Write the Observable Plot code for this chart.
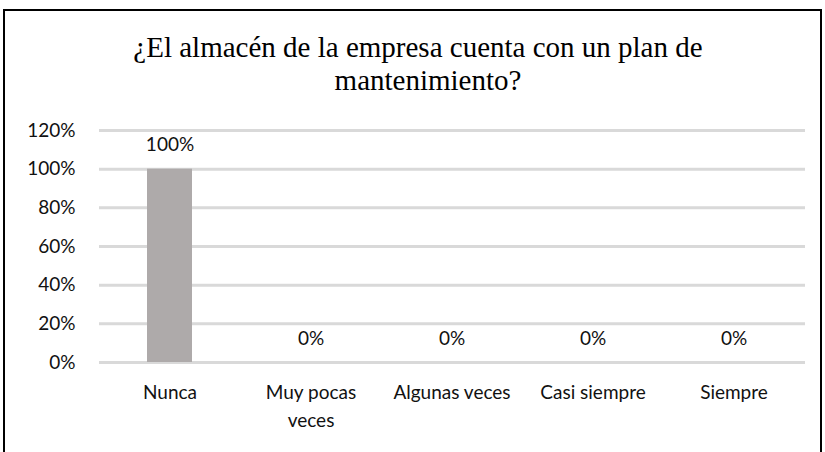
<!DOCTYPE html>
<html>
<head>
<meta charset="utf-8">
<script src="https://cdn.jsdelivr.net/npm/d3@7"></script>
<script src="https://cdn.jsdelivr.net/npm/@observablehq/plot@0.6"></script>
<style>
  html, body { margin: 0; padding: 0; background: #fff; }
  #page { position: relative; width: 825px; height: 452px; overflow: hidden; background: #fff; }
  #frame { position: absolute; left: 3px; top: 9px; width: 819px; height: 460px; border: 2px solid #000; box-sizing: border-box; }
  #chart { position: absolute; left: 0; top: 0; }
</style>
</head>
<body>
<div id="page">
  <div id="frame"></div>
  <div id="chart"></div>
</div>
<script>
const titleLines = ["¿El almacén de la empresa cuenta con un plan de", "mantenimiento?"];
const categories = ["Nunca", "Muy pocas veces", "Algunas veces", "Casi siempre", "Siempre"];
const categoryLabels = ["Nunca", "Muy pocas\nveces", "Algunas veces", "Casi siempre", "Siempre"];
const values = [1.00, 0.00, 0.00, 0.00, 0.00];
const yTicks = [0, 0.2, 0.4, 0.6, 0.8, 1.0, 1.2];

const data = categories.map((c, i) => ({cat: c, value: values[i]}));
const labelOf = new Map(categories.map((c, i) => [c, categoryLabels[i]]));
const pct = v => Math.round(v * 100) + "%";
const font = "Lato, 'Open Sans', sans-serif";

const chart = Plot.plot({
  width: 825,
  height: 440,
  marginLeft: 99,
  marginRight: 20,
  marginTop: 130,
  marginBottom: 78,
  style: {fontFamily: font, fontSize: "19px", color: "#111", background: "transparent"},
  x: {domain: categories, paddingInner: 0.68, paddingOuter: 0.34, label: null},
  y: {domain: [0, 1.2], label: null},
  marks: [
    Plot.ruleY(yTicks, {stroke: "#d9d9d9", strokeWidth: 3}),
    Plot.barY(data, {x: "cat", y: "value", fill: "#aeaaaa"}),
    Plot.text(data, {x: "cat", y: "value", text: d => pct(d.value), dy: -24, fontSize: 19, fill: "#111"}),
    Plot.axisY({ticks: yTicks, tickFormat: pct, tickSize: 0, tickPadding: 24, fontSize: 19, fill: "#111", label: null}),
    Plot.axisX({tickSize: 0, tickPadding: 16, tickFormat: c => labelOf.get(c), fontSize: 19, fill: "#111", lineHeight: 1.5, label: null})
  ]
});
document.getElementById("chart").appendChild(chart);

const svg = d3.select(chart);
const titleX = [418, 428];
const titleY = [57, 90];
svg.selectAll("text.ttl").data(titleLines).join("text")
  .attr("class", "ttl")
  .attr("x", (d, i) => titleX[i])
  .attr("y", (d, i) => titleY[i])
  .attr("text-anchor", "middle")
  .style("font-family", "'Liberation Serif', 'Times New Roman', serif")
  .attr("font-size", 29)
  .attr("fill", "#000")
  .text(d => d);
</script>
</body>
</html>
